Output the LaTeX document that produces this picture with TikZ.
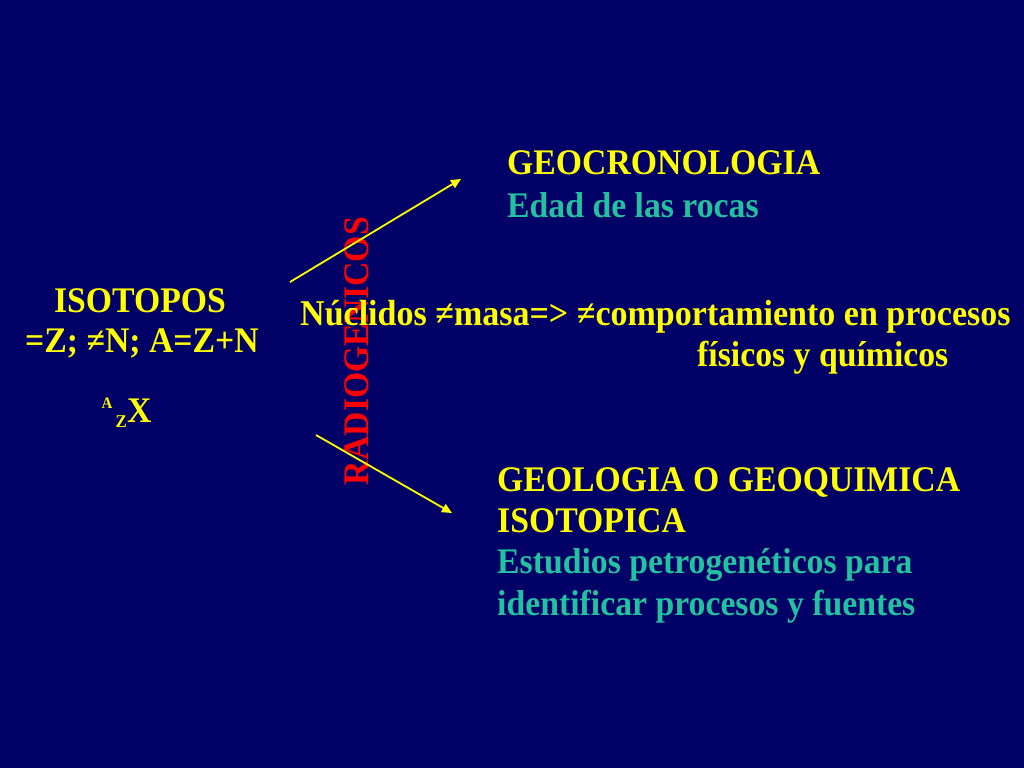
\documentclass[tikz,border=0pt]{standalone}
\usepackage{fontspec}
\setmainfont[FakeStretch=0.937]{Liberation Serif}
\usetikzlibrary{arrows.meta}
\definecolor{bgnavy}{HTML}{000066}
\definecolor{txtyellow}{HTML}{FFFF00}
\definecolor{txtteal}{HTML}{22C2A0}
\definecolor{txtred}{HTML}{FF0000}
\tikzset{
  lbl/.style={inner sep=0pt, anchor=base west, font=\fontsize{36}{42}\selectfont\bfseries},
  ylbl/.style={lbl, text=txtyellow},
  tlbl/.style={lbl, text=txtteal},
  arr/.style={draw=txtyellow, line width=1.8pt, -{Triangle[length=10pt,width=9pt]}}
}
\begin{document}
\begin{tikzpicture}[x=1pt,y=-1pt]
\fill[bgnavy] (0,0) rectangle (1024,768);
\useasboundingbox (0,0) rectangle (1024,768);
% left block
\node[ylbl, anchor=base] (iso) at (140,312) {ISOTOPOS};
\node[ylbl, anchor=base] (eq) at (142,352) {=Z; ≠N; A=Z+N};
\node[ylbl, anchor=base west, font=\fontsize{16}{16}\selectfont\bfseries] (azA) at (101.5,408) {A};
\node[ylbl, anchor=base west, font=\fontsize{18}{18}\selectfont\bfseries] (azZ) at (115.5,427) {Z};
\node[ylbl, anchor=base west, font=\fontsize{36}{36}\selectfont\bfseries] (azX) at (127,422) {X};
% rotated red label
\node[inner sep=0pt, text=txtred, font=\fontsize{36}{42}\selectfont\bfseries, rotate=90, anchor=center] (radio) at (357,351) {RADIOGENICOS};
% arrows
\coordinate (a1s) at (290,282);
\coordinate (a1e) at (461,179);
\coordinate (a2s) at (316,435);
\coordinate (a2e) at (452,513);
\draw[arr] (a1s) -- (a1e);
\draw[arr] (a2s) -- (a2e);
% top right
\node[ylbl] (geocr) at (507,174) {GEOCRONOLOGIA};
\node[tlbl] (edad) at (507,217) {Edad de las rocas};
% middle
\node[ylbl, font=\fontsize{36.3}{42}\selectfont\bfseries] (nucl) at (300,325) {Núclidos ≠masa=> ≠comportamiento en procesos};
\node[ylbl] (fisq) at (697,366) {físicos y químicos};
% bottom right
\node[ylbl] (geol) at (497,491) {GEOLOGIA O GEOQUIMICA};
\node[ylbl] (isot) at (497,532) {ISOTOPICA};
\node[tlbl] (estu) at (497,573) {Estudios petrogenéticos para};
\node[tlbl] (iden) at (497,615) {identificar procesos y fuentes};
\end{tikzpicture}
\end{document}
